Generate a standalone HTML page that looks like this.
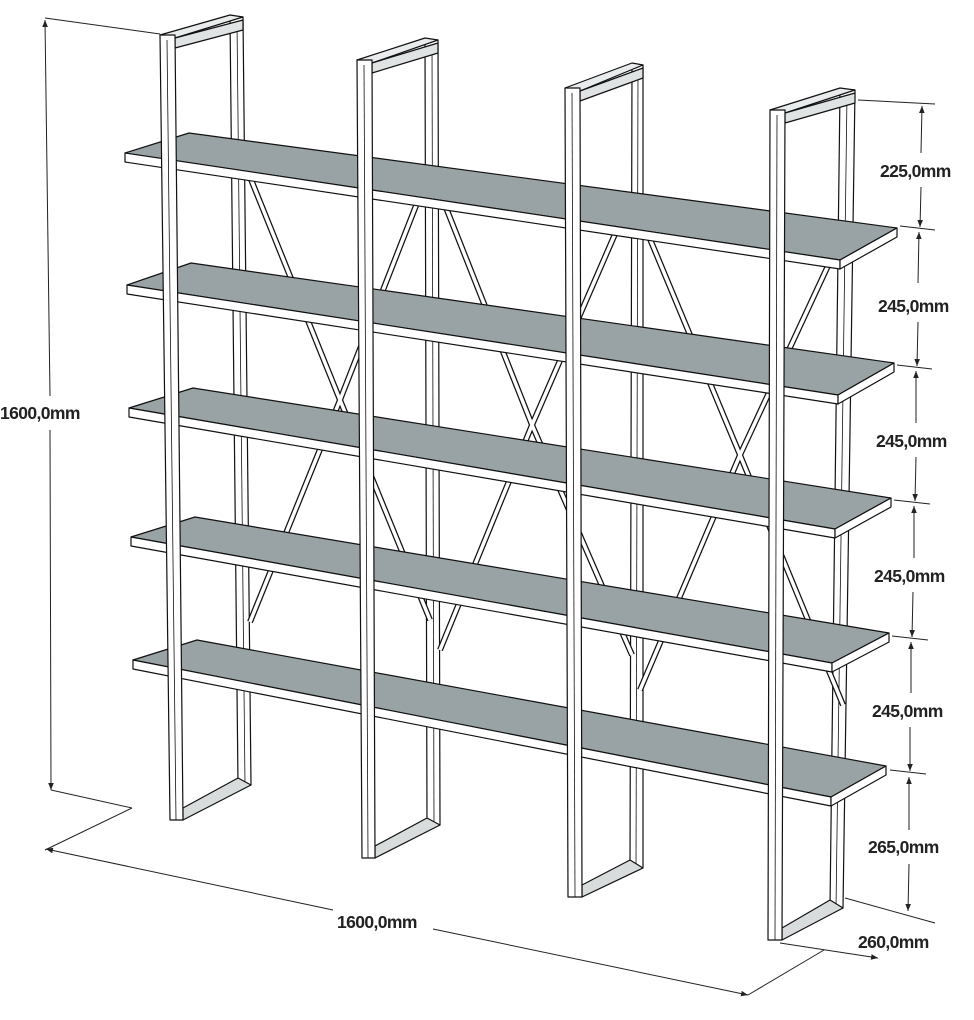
<!DOCTYPE html>
<html><head><meta charset="utf-8"><style>
html,body{margin:0;padding:0;background:#fff}
svg{display:block}
text{font-family:"Liberation Sans",Arial,sans-serif;font-size:17.5px;fill:#222;font-weight:bold;letter-spacing:-0.6px}
</style></head><body>
<svg width="974" height="1020" viewBox="0 0 974 1020" xmlns="http://www.w3.org/2000/svg">
<defs>
<marker id="ar" viewBox="0 0 10 10" refX="10" refY="5" markerWidth="7" markerHeight="10" orient="auto-start-reverse"><path d="M0,1 L10,5 L0,9 z" fill="#222"/></marker>
</defs>
<g stroke="#111" stroke-width="1.2" stroke-linejoin="round">
<polygon points="230,17 243,17 251,785 238,785" fill="#fff"/>
<line x1="237" y1="22" x2="245" y2="785" stroke-width="0.8"/>
<polygon points="425,40 438,40 440,825 427,825" fill="#fff"/>
<line x1="432" y1="45" x2="434" y2="825" stroke-width="0.8"/>
<polygon points="632,65 643,65 643,868 630,868" fill="#fff"/>
<line x1="638" y1="70" x2="636" y2="868" stroke-width="0.8"/>
<polygon points="840,90 855,90 843,908 830,908" fill="#fff"/>
<line x1="847" y1="95" x2="836" y2="908" stroke-width="0.8"/>
</g>
<g fill="none" stroke-linecap="butt">
<g stroke="#111" stroke-width="6">
<path d="M248,172 L340,400 L430,620 M250,622 L340,400 L428,175"/>
<path d="M443,200 L532,425 L632,655 M632,195 L532,425 L440,650"/>
<path d="M645,227 L740,455 L843,705 M840,240 L740,455 L640,690"/>
</g>
<g stroke="#fff" stroke-width="3.5">
<path d="M248,172 L340,400 L430,620 M250,622 L340,400 L428,175"/>
<path d="M443,200 L532,425 L632,655 M632,195 L532,425 L440,650"/>
<path d="M645,227 L740,455 L843,705 M840,240 L740,455 L640,690"/>
</g>
</g>
<g stroke="#111" stroke-width="1.2" stroke-linejoin="round">
<polygon points="160,35 230,15 243,17 175,38" fill="#e8ecec"/>
<polygon points="175,38 243,20 243,30 175,48" fill="#dfe3e3"/>
<polygon points="357,60 425,38 438,40 372,63" fill="#e8ecec"/>
<polygon points="372,63 438,43 438,53 372,73" fill="#dfe3e3"/>
<polygon points="565,88 632,63 643,65 580,91" fill="#e8ecec"/>
<polygon points="580,91 643,68 643,78 580,101" fill="#dfe3e3"/>
<polygon points="770,110 840,88 855,90 785,113" fill="#e8ecec"/>
<polygon points="785,113 855,93 855,103 785,123" fill="#dfe3e3"/>
<polygon points="183,808 238,778 251,785 183,820" fill="#d8dcdc"/>
<polygon points="375,846 427,818 440,825 375,858" fill="#d8dcdc"/>
<polygon points="582,885 630,860 643,868 582,897" fill="#d8dcdc"/>
<polygon points="782,928 830,900 843,908 782,940" fill="#d8dcdc"/>
<g fill="#99a3a6">
<polygon points="125,153 189,133 897,228 840,260"/>
<polygon points="127,285 191,263 894,363 838,395"/>
<polygon points="129,408 193,388 891,498 835,529"/>
<polygon points="131,537 195,517 889,633 832,663"/>
<polygon points="133,660 197,640 886,766 831,797"/>
</g>
<g fill="#fff">
<polygon points="125,153 840,260 840,269 125,162"/>
<polygon points="840,260 897,228 897,237 840,269"/>
<polygon points="127,285 838,395 838,404 127,294"/>
<polygon points="838,395 894,363 894,372 838,404"/>
<polygon points="129,408 835,529 835,538 129,417"/>
<polygon points="835,529 891,498 891,507 835,538"/>
<polygon points="131,537 832,663 832,672 131,546"/>
<polygon points="832,663 889,633 889,642 832,672"/>
<polygon points="133,660 831,797 831,806 133,669"/>
<polygon points="831,797 886,766 886,775 831,806"/>
</g>
<polygon points="160,35 175,35 183,820 170,820" fill="#fff"/>
<line x1="167" y1="40" x2="176" y2="820" stroke-width="0.8"/>
<polygon points="357,60 372,60 375,858 362,858" fill="#fff"/>
<line x1="364" y1="65" x2="368" y2="858" stroke-width="0.8"/>
<polygon points="565,88 580,88 582,897 568,897" fill="#fff"/>
<line x1="572" y1="93" x2="575" y2="897" stroke-width="0.8"/>
<polygon points="770,110 785,110 782,940 768,940" fill="#fff"/>
<line x1="777" y1="115" x2="775" y2="940" stroke-width="0.8"/>
</g>
<g stroke="#222" stroke-width="1" fill="none">
<line x1="45" y1="18" x2="160" y2="34"/>
<line x1="45" y1="20" x2="50" y2="396" marker-start="url(#ar)"/>
<line x1="50" y1="430" x2="51" y2="790" marker-end="url(#ar)"/>
<line x1="51" y1="790" x2="132" y2="808"/>
<line x1="132" y1="808" x2="45" y2="850"/>
<line x1="46" y1="849" x2="333" y2="910" marker-start="url(#ar)"/>
<line x1="433" y1="929" x2="748" y2="995" marker-end="url(#ar)"/>
<line x1="748" y1="995" x2="824" y2="950"/>
<line x1="780" y1="943" x2="878" y2="958" marker-end="url(#ar)"/>
<line x1="845" y1="898" x2="935" y2="923"/>
<line x1="858" y1="100" x2="935" y2="104"/>
<line x1="900" y1="226" x2="935" y2="230"/>
<line x1="897" y1="365" x2="932" y2="369"/>
<line x1="894" y1="500" x2="930" y2="504"/>
<line x1="892" y1="636" x2="928" y2="640"/>
<line x1="890" y1="770" x2="926" y2="774"/>
<line x1="922" y1="106" x2="921" y2="153" marker-start="url(#ar)"/>
<line x1="921" y1="187" x2="920" y2="227" marker-end="url(#ar)"/>
<line x1="919" y1="232" x2="918" y2="283" marker-start="url(#ar)"/>
<line x1="918" y1="322" x2="917" y2="366" marker-end="url(#ar)"/>
<line x1="916" y1="371" x2="916" y2="423" marker-start="url(#ar)"/>
<line x1="916" y1="457" x2="915" y2="501" marker-end="url(#ar)"/>
<line x1="914" y1="506" x2="914" y2="558" marker-start="url(#ar)"/>
<line x1="913" y1="592" x2="912" y2="637" marker-end="url(#ar)"/>
<line x1="911" y1="642" x2="911" y2="693" marker-start="url(#ar)"/>
<line x1="910" y1="727" x2="910" y2="771" marker-end="url(#ar)"/>
<line x1="909" y1="777" x2="909" y2="830" marker-start="url(#ar)"/>
<line x1="909" y1="864" x2="908" y2="911" marker-end="url(#ar)"/>
</g>
<text x="0" y="419">1600,0mm</text>
<text x="337" y="928">1600,0mm</text>
<text x="880" y="177">225,0mm</text>
<text x="878" y="312">245,0mm</text>
<text x="876" y="447">245,0mm</text>
<text x="874" y="582">245,0mm</text>
<text x="872" y="717">245,0mm</text>
<text x="868" y="853">265,0mm</text>
<text x="858" y="948">260,0mm</text>
</svg>
</body></html>
